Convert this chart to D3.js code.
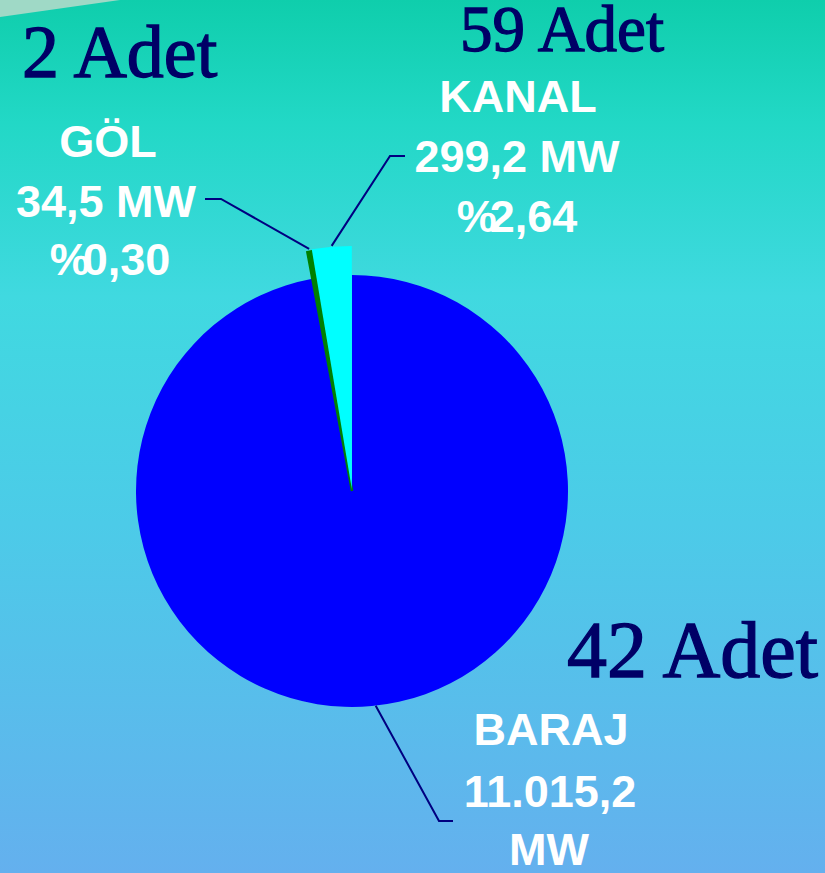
<!DOCTYPE html>
<html>
<head>
<meta charset="utf-8">
<script src="https://cdn.jsdelivr.net/npm/d3@7"></script>
<style>
  html, body { margin: 0; padding: 0; overflow: hidden; }
</style>
</head>
<body>
<div id="chart-area"></div>
<script>
// santral tipleri (pie order: baraj, göl, kanal)
var categories = ["BARAJ", "GÖL", "KANAL"];
var values = [11015.2, 34.5, 299.2];
var valueLabels = ["11.015,2", "34,5 MW", "299,2 MW"];
var percentLabels = ["", "0,30", "2,64"];
var counts = [42, 2, 59];
var colors = ["#0000ff", "#008000", "#00ffff"];

var width = 825;
var height = 873;
var cx = 352, cy = 491;
var radius = 216;
var exploded = 243;

var svg = d3.select("#chart-area")
    .append("svg")
    .attr("width", width)
    .attr("height", height);

var defs = svg.append("defs");
var grad = defs.append("linearGradient")
    .attr("id", "bg")
    .attr("x1", 0).attr("y1", 0).attr("x2", 0).attr("y2", 1);
grad.append("stop").attr("offset", "0").attr("stop-color", "#0fceac");
grad.append("stop").attr("offset", "0.14").attr("stop-color", "#22d8c6");
grad.append("stop").attr("offset", "0.34").attr("stop-color", "#40d9e0");
grad.append("stop").attr("offset", "0.6").attr("stop-color", "#4ccbe8");
grad.append("stop").attr("offset", "1").attr("stop-color", "#64b0ee");

svg.append("rect")
    .attr("width", width)
    .attr("height", height)
    .attr("fill", "url(#bg)");

// light corner wedge
svg.append("path")
    .attr("d", "M0,0 L120,0 L0,17 Z")
    .attr("fill", "#9fd9c6");

var data = categories.map(function(c, i) {
    return {name: c, value: values[i], label: valueLabels[i], pct: percentLabels[i], count: counts[i], color: colors[i]};
});

var pie = d3.pie()
    .sort(null)
    .value(function(d) { return d.value; });

var arcs = pie(data);

var g = svg.append("g")
    .attr("transform", "translate(" + cx + ", " + cy + ")");

var arcMain = d3.arc().innerRadius(0).outerRadius(radius);
var arcOut = d3.arc().innerRadius(0).outerRadius(exploded);

g.selectAll("path.slice")
    .data(arcs)
    .enter().append("path")
    .attr("class", "slice")
    .attr("d", function(d, i) { return i == 0 ? arcMain(d) : arcOut(d); })
    .attr("transform", function(d, i) {
        if (i == 0) return null;
        var a = (d.startAngle + d.endAngle) / 2;
        var off = i == 1 ? 0 : 2;
        return "translate(" + (Math.sin(a) * off) + "," + (-Math.cos(a) * off) + ")";
    })
    .attr("fill", function(d) { return d.data.color; })
    .attr("stroke", function(d, i) { return i == 1 ? d.data.color : "none"; })
    .attr("stroke-width", 2.5)
    .attr("stroke-linejoin", "miter");

// leader lines
function edgePoint(d, r) {
    var a = (d.startAngle + d.endAngle) / 2;
    return [cx + Math.sin(a) * r, cy - Math.cos(a) * r];
}

var baraj = arcs[0], gol = arcs[1], kanal = arcs[2];
var pB = [cx + Math.sin(Math.PI * 0.965) * radius, cy - Math.cos(Math.PI * 0.965) * radius];
var pG = edgePoint(gol, exploded + 3);
var pK = edgePoint(kanal, exploded + 3);

var line = d3.line();
var leaders = [
    [pG, [221, 199], [205, 199]],
    [pK, [390, 156], [405, 156]],
    [pB, [439, 821], [453, 821]]
];
svg.selectAll("path.leader")
    .data(leaders)
    .enter().append("path")
    .attr("class", "leader")
    .attr("d", function(d) { return line(d); })
    .attr("fill", "none")
    .attr("stroke", "#000080")
    .attr("stroke-width", 2);

// white labels
var labelFont = "'Liberation Sans', Arial, sans-serif";
function whiteText(x, y, txt) {
    return svg.append("text")
        .attr("x", x)
        .attr("y", y)
        .attr("text-anchor", "middle")
        .attr("font-family", labelFont)
        .attr("font-weight", "bold")
        .attr("font-size", "45px")
        .attr("fill", "white")
        .text(txt);
}
function pctText(x, y, txt) {
    var t = svg.append("text")
        .attr("x", x)
        .attr("y", y)
        .attr("text-anchor", "middle")
        .attr("font-family", labelFont)
        .attr("font-weight", "bold")
        .attr("font-size", "45px")
        .attr("fill", "white");
    t.append("tspan").text("%");
    t.append("tspan").attr("dx", -7).text(txt);
    return t;
}

whiteText(108, 157, gol.data.name);
whiteText(106, 217, gol.data.label);
pctText(110, 275, gol.data.pct);

whiteText(518, 112, kanal.data.name);
whiteText(517, 172, kanal.data.label);
pctText(517, 232, kanal.data.pct);

whiteText(551, 745, baraj.data.name);
whiteText(550, 807, baraj.data.label);
whiteText(549, 865, "MW");

// adet counts
var serif = "'Liberation Serif', 'Times New Roman', serif";
function countText(x, y, size, n) {
    svg.append("text")
        .attr("x", x)
        .attr("y", y)
        .attr("font-family", serif)
        .attr("font-size", size)
        .attr("fill", "#000066")
        .attr("stroke", "#000066")
        .attr("stroke-width", 1.3)
        .text(n + " Adet");
}
countText(22, 77, "74px", gol.data.count);
countText(460, 51, "65px", kanal.data.count);
countText(567, 677, "80px", baraj.data.count);
</script>
</body>
</html>
